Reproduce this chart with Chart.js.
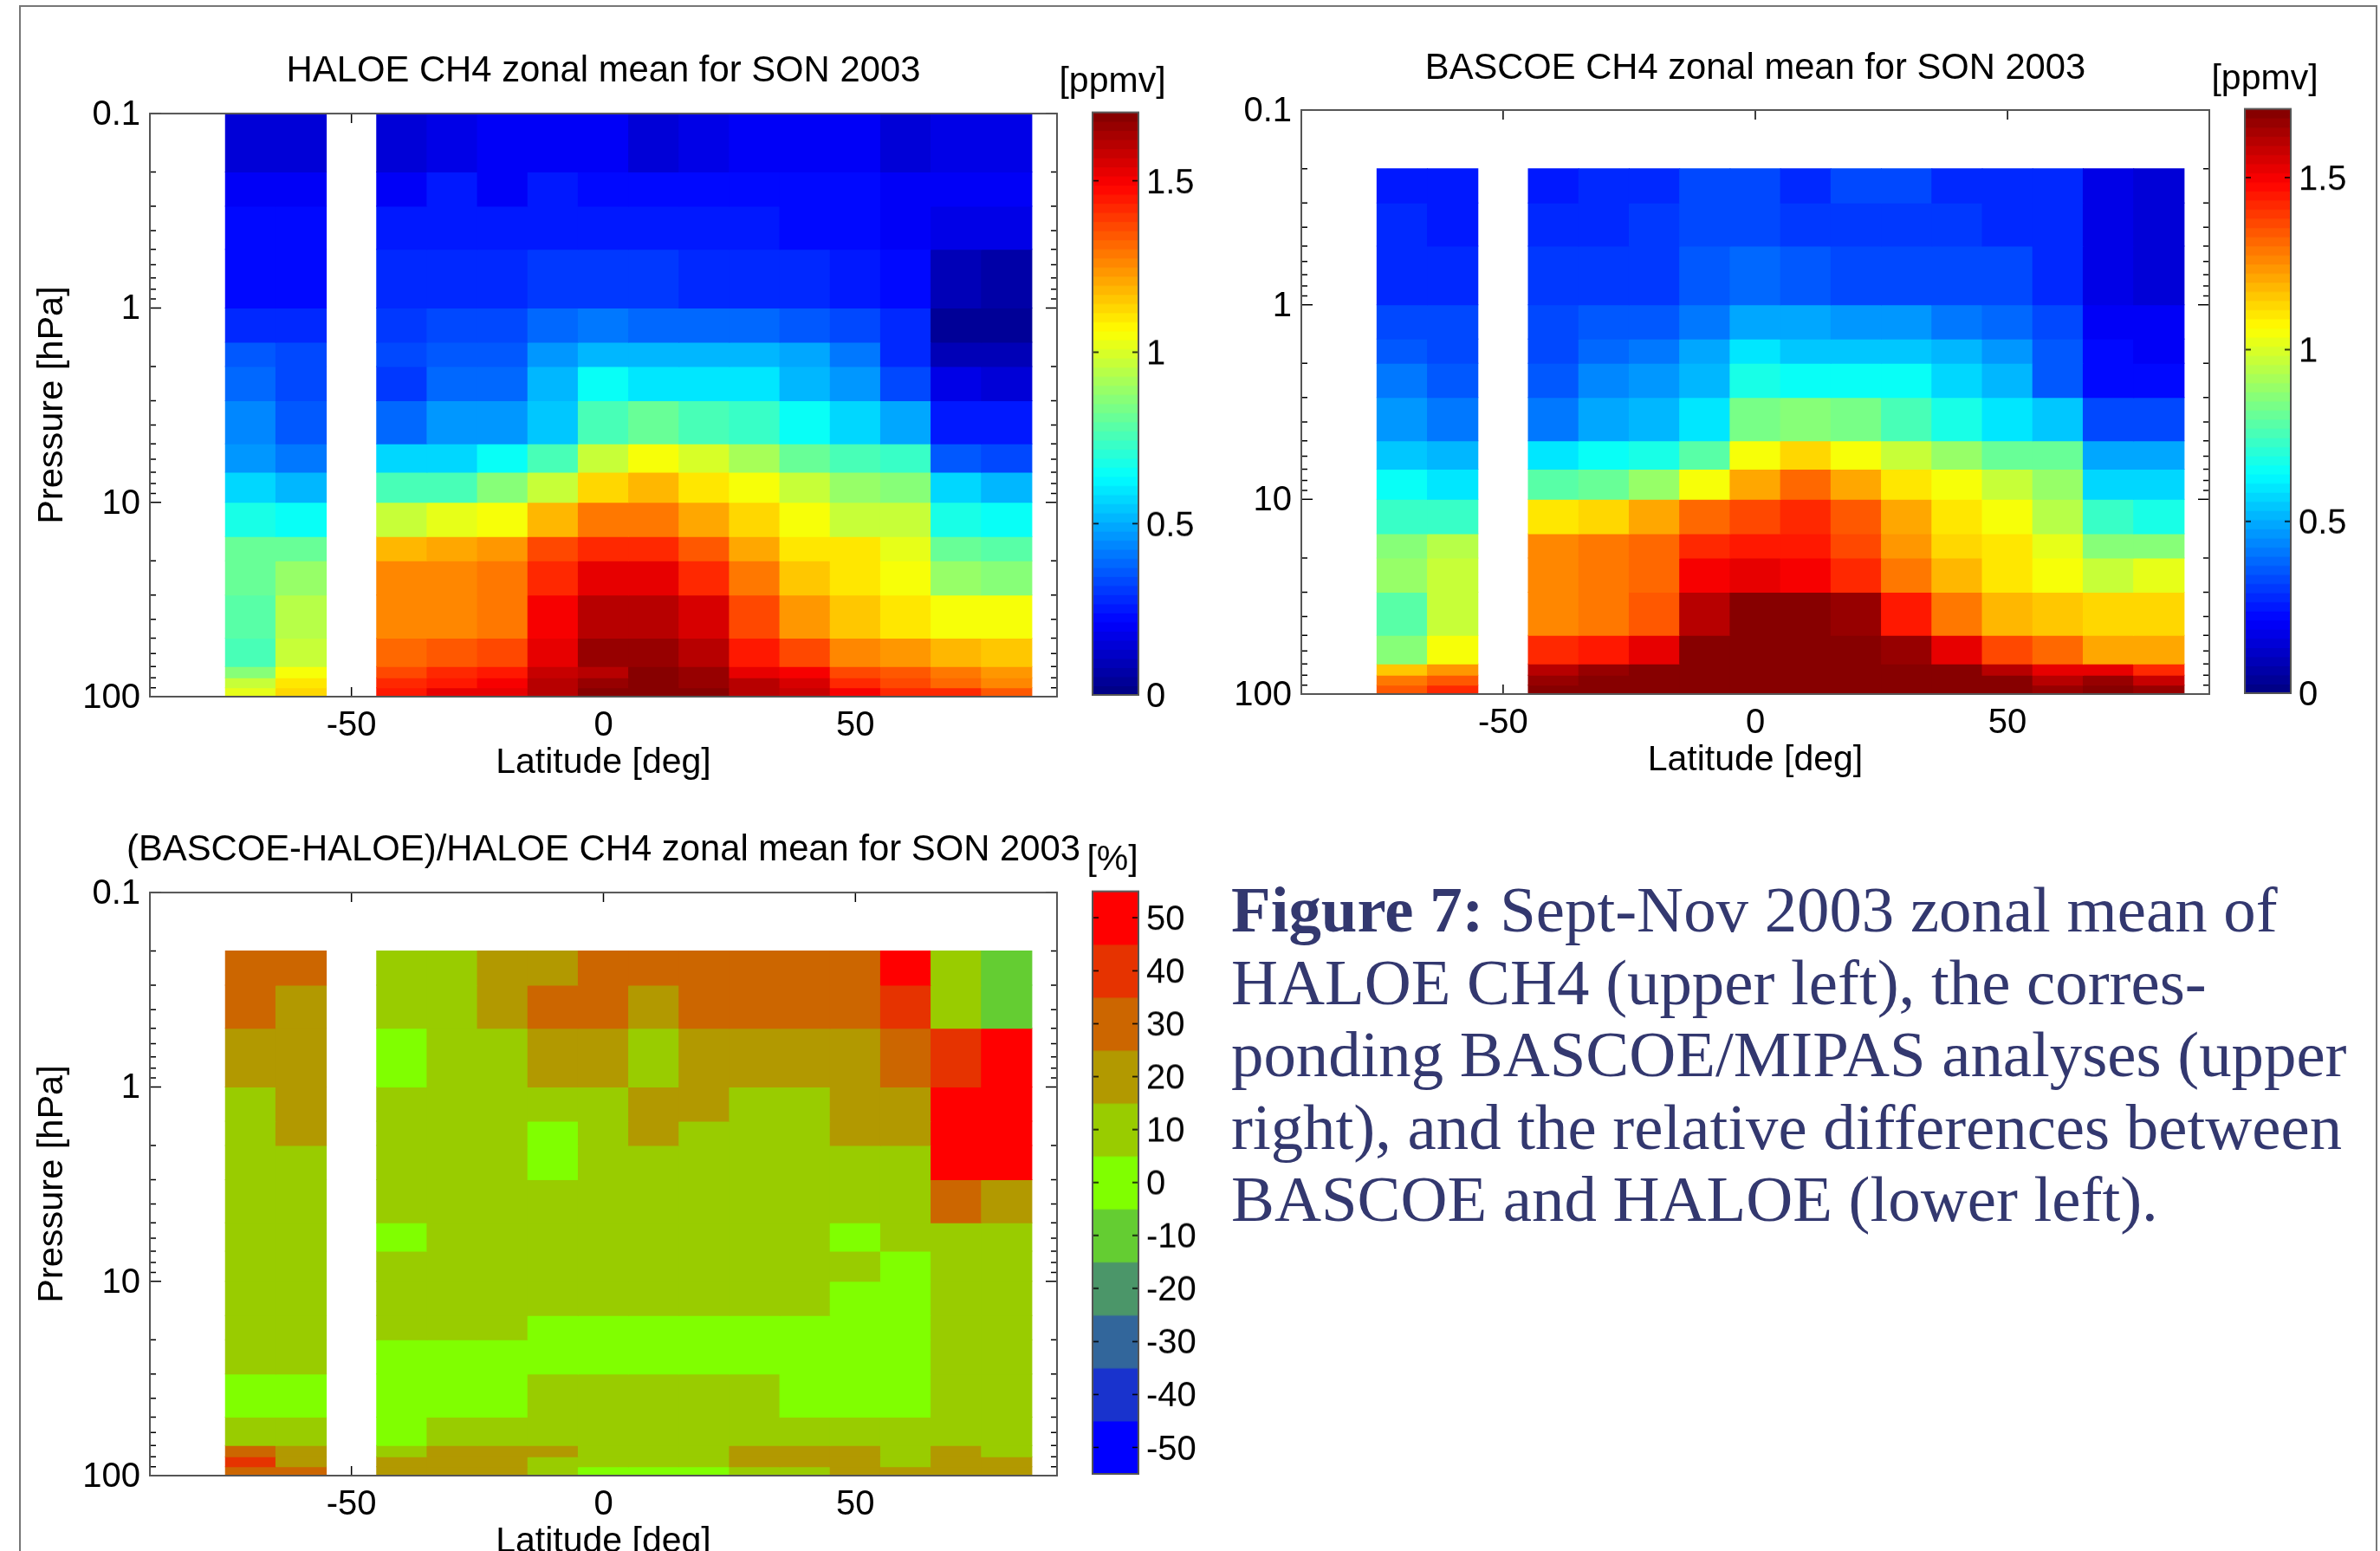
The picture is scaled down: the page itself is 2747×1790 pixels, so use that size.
<!DOCTYPE html>
<html>
<head>
<meta charset="utf-8">
<title>Figure 7</title>
<script src="https://cdn.jsdelivr.net/npm/chart.js@4"></script>
<style>
    html, body { margin: 0; background: #fff; width: 2747px; height: 1790px; overflow: hidden; }
    canvas { position: absolute; }
    #frame { position: absolute; left: 22px; top: 6px; width: 2722px; height: 2000px; box-sizing: border-box;
             border: 2px solid #777; }
    #caption { position: absolute; left: 1421px; top: 1008px; font: 74.8px/83.6px "Liberation Serif", serif;
               color: #33386f; white-space: nowrap; }
</style>
</head>
<body>
<div id="frame"></div>
<div id="caption"><b>Figure 7:</b> Sept-Nov 2003 zonal mean of<br>HALOE CH4 (upper left), the corres-<br>ponding BASCOE/MIPAS analyses (upper<br>right), and the relative differences between<br>BASCOE and HALOE (lower left).</div>
<script>
// Latitude column centres, -50 has no data in any panel
const latitudes = [-70, -60, -40, -30, -20, -10, 0, 10, 20, 30, 40, 50, 60, 70, 80];
const latTicks = [-50, 0, 50];

// Pressure bin edges in hPa, top of the atmosphere first
const pressureEdges = [0.1, 0.2, 0.3, 0.5, 1, 1.5, 2, 3, 5, 7, 10, 15, 20, 30, 50, 70, 80, 90, 100];
const pressureLabels = [0.1, 1, 10, 100];
const pressureTicks = [0.1, 0.2, 0.3, 0.4, 0.5, 0.6, 0.7, 0.8, 0.9, 1, 2, 3, 4, 5, 6, 7, 8, 9, 10,
                       20, 30, 40, 50, 60, 70, 80, 90, 100];

// HALOE CH4 [ppmv], one row per pressure bin
const haloe = [
    [.144, .144, .144, .18, .20, .20, .20, .14, .18, .20, .20, .20, .15, .185, .185],
    [.21, .21, .21, .24, .21, .25, .23, .23, .23, .23, .23, .23, .19, .20, .20],
    [.22, .22, .25, .25, .25, .25, .25, .25, .25, .25, .23, .23, .21, .18, .16],
    [.23, .23, .28, .28, .28, .31, .31, .31, .29, .29, .29, .25, .23, .10, .07],
    [.28, .28, .295, .34, .34, .395, .42, .395, .395, .395, .37, .345, .28, .05, .04],
    [.37, .34, .32, .37, .37, .455, .53, .505, .505, .505, .48, .41, .29, .10, .09],
    [.395, .345, .31, .395, .395, .505, .64, .61, .61, .61, .53, .455, .345, .18, .15],
    [.43, .37, .395, .455, .455, .555, .77, .80, .77, .72, .66, .58, .48, .26, .26],
    [.46, .40, .58, .58, .64, .76, .98, 1.06, 1.00, .92, .82, .75, .74, .36, .33],
    [.56, .53, .77, .77, .85, .96, 1.14, 1.19, 1.11, 1.04, .96, .90, .86, .56, .52],
    [.69, .66, .98, 1.01, 1.06, 1.19, 1.29, 1.29, 1.21, 1.14, 1.04, .98, .96, .69, .66],
    [.80, .81, 1.19, 1.21, 1.24, 1.38, 1.43, 1.43, 1.33, 1.21, 1.11, 1.09, 1.01, .81, .79],
    [.81, .90, 1.26, 1.26, 1.29, 1.43, 1.52, 1.52, 1.41, 1.29, 1.16, 1.11, 1.04, .90, .87],
    [.79, .93, 1.26, 1.26, 1.29, 1.49, 1.60, 1.62, 1.55, 1.38, 1.24, 1.16, 1.11, 1.06, 1.04],
    [.77, .96, 1.31, 1.35, 1.38, 1.54, 1.65, 1.67, 1.60, 1.46, 1.38, 1.26, 1.24, 1.19, 1.16],
    [.87, 1.04, 1.38, 1.43, 1.46, 1.57, 1.62, 1.70, 1.65, 1.54, 1.49, 1.38, 1.35, 1.29, 1.24],
    [.96, 1.09, 1.41, 1.46, 1.49, 1.60, 1.67, 1.70, 1.67, 1.60, 1.55, 1.43, 1.38, 1.31, 1.26],
    [1.01, 1.14, 1.46, 1.52, 1.54, 1.62, 1.70, 1.70, 1.70, 1.62, 1.57, 1.49, 1.41, 1.41, 1.35]
];

// BASCOE CH4 [ppmv], starts one bin lower than HALOE
const bascoe = [
    [.26, .26, .25, .29, .29, .32, .32, .28, .32, .32, .29, .29, .29, .185, .14],
    [.28, .25, .28, .28, .31, .34, .34, .31, .31, .31, .31, .29, .29, .185, .14],
    [.29, .29, .295, .295, .295, .37, .395, .37, .345, .345, .345, .32, .29, .185, .14],
    [.345, .32, .34, .36, .36, .42, .48, .48, .455, .455, .42, .395, .34, .21, .19],
    [.37, .345, .32, .395, .42, .48, .61, .555, .555, .555, .53, .455, .37, .235, .21],
    [.405, .37, .355, .43, .455, .505, .69, .66, .66, .64, .58, .505, .37, .235, .235],
    [.455, .42, .42, .48, .505, .61, .83, .85, .83, .77, .69, .61, .555, .32, .32],
    [.555, .51, .59, .64, .69, .79, 1.04, 1.14, 1.06, .96, .90, .81, .81, .48, .48],
    [.64, .61, .79, .81, .90, 1.04, 1.21, 1.31, 1.21, 1.11, 1.06, .96, .90, .58, .58],
    [.74, .74, 1.09, 1.14, 1.21, 1.31, 1.38, 1.41, 1.35, 1.21, 1.11, 1.04, .93, .72, .69],
    [.87, .93, 1.26, 1.29, 1.31, 1.43, 1.46, 1.46, 1.38, 1.24, 1.14, 1.09, 1.01, .87, .87],
    [.90, .96, 1.26, 1.29, 1.31, 1.49, 1.52, 1.49, 1.43, 1.29, 1.19, 1.11, 1.06, .96, 1.01],
    [.79, .96, 1.26, 1.29, 1.35, 1.60, 1.70, 1.70, 1.67, 1.46, 1.29, 1.19, 1.16, 1.14, 1.14],
    [.87, 1.04, 1.41, 1.46, 1.54, 1.70, 1.70, 1.70, 1.70, 1.65, 1.54, 1.38, 1.31, 1.21, 1.21],
    [1.16, 1.24, 1.60, 1.67, 1.70, 1.70, 1.70, 1.70, 1.70, 1.70, 1.70, 1.62, 1.52, 1.52, 1.41],
    [1.29, 1.35, 1.67, 1.70, 1.70, 1.70, 1.70, 1.70, 1.70, 1.70, 1.70, 1.70, 1.60, 1.67, 1.57],
    [1.35, 1.43, 1.70, 1.70, 1.70, 1.70, 1.70, 1.70, 1.70, 1.70, 1.70, 1.70, 1.65, 1.70, 1.67]
];

// (BASCOE-HALOE)/HALOE [%], rounded to the colour bins
const difference = [
    [30, 30, 10, 10, 20, 20, 30, 30, 30, 30, 30, 30, 50, 10, -10],
    [30, 20, 10, 10, 20, 30, 30, 20, 30, 30, 30, 30, 40, 10, -10],
    [20, 20, 0, 10, 10, 20, 20, 10, 20, 20, 20, 20, 30, 40, 50],
    [10, 20, 10, 10, 10, 10, 10, 20, 20, 10, 10, 20, 20, 50, 50],
    [10, 20, 10, 10, 10, 0, 10, 20, 10, 10, 10, 20, 20, 50, 50],
    [10, 10, 10, 10, 10, 0, 10, 10, 10, 10, 10, 10, 10, 50, 50],
    [10, 10, 10, 10, 10, 10, 10, 10, 10, 10, 10, 10, 10, 30, 20],
    [10, 10, 0, 10, 10, 10, 10, 10, 10, 10, 10, 0, 10, 10, 10],
    [10, 10, 10, 10, 10, 10, 10, 10, 10, 10, 10, 10, 0, 10, 10],
    [10, 10, 10, 10, 10, 10, 10, 10, 10, 10, 10, 0, 0, 10, 10],
    [10, 10, 10, 10, 10, 0, 0, 0, 0, 0, 0, 0, 0, 10, 10],
    [10, 10, 0, 0, 0, 0, 0, 0, 0, 0, 0, 0, 0, 10, 10],
    [0, 0, 0, 0, 0, 10, 10, 10, 10, 10, 0, 0, 0, 10, 10],
    [10, 10, 0, 10, 10, 10, 10, 10, 10, 10, 10, 10, 10, 10, 10],
    [30, 20, 10, 20, 20, 20, 10, 10, 10, 20, 20, 20, 10, 20, 10],
    [40, 20, 20, 20, 20, 10, 10, 10, 10, 20, 20, 20, 10, 20, 20],
    [30, 30, 20, 20, 20, 10, 0, 0, 0, 10, 10, 20, 20, 20, 20]
];

// Colour bars
const ppmvMax = 1.7;
const ppmvTicks = [0, 0.5, 1, 1.5];
const diffLevels = [-50, -40, -30, -20, -10, 0, 10, 20, 30, 40, 50];
const diffColors = ['#0000ff', '#1933cd', '#32669b', '#4b9669', '#64cd32', '#80ff00',
                    '#99cc00', '#b29900', '#cc6600', '#e63300', '#ff0000'];

const axisGrey = '#555';
Chart.defaults.font.family = '"Liberation Sans", Arial, sans-serif';
Chart.defaults.color = '#000';
Chart.defaults.animation = false;

// 64 step rainbow like the IDL colour table
function jet(v) {
    const n = Math.min(63, Math.floor(v / ppmvMax * 64));
    const t = (n + 0.5) / 64;
    const ramp = c => Math.round(255 * Math.max(0, Math.min(1, 1.5 - Math.abs(4 * t - c))));
    return `rgb(${ramp(3)},${ramp(2)},${ramp(1)})`;
}

function diffColor(v) {
    return diffColors[diffLevels.indexOf(v)];
}

// IDL style inward ticks and a box round the plot
const frameTicks = {
    id: 'frameTicks',
    drawTicks(chart, o) {
        const { ctx, chartArea: a, scales } = chart;
        ctx.save();
        ctx.strokeStyle = '#000';
        ctx.lineWidth = 1.5;
        ctx.beginPath();
        (o.xTicks || []).forEach(v => {
            const x = scales.x.getPixelForValue(v);
            ctx.moveTo(x, a.top); ctx.lineTo(x, a.top + 11);
            ctx.moveTo(x, a.bottom); ctx.lineTo(x, a.bottom - 11);
        });
        (o.yTicks || []).forEach(v => {
            const y = scales.y.getPixelForValue(v);
            const len = (o.yMajor || o.yTicks).includes(v) ? o.majorLen : o.minorLen;
            ctx.moveTo(a.left, y); ctx.lineTo(a.left + len, y);
            ctx.moveTo(a.right, y); ctx.lineTo(a.right - len, y);
        });
        ctx.stroke();
        ctx.restore();
    },
    beforeDatasetsDraw(chart, args, o) {
        if (!o.ticksOnTop) this.drawTicks(chart, o);
    },
    afterDatasetsDraw(chart, args, o) {
        if (o.ticksOnTop) this.drawTicks(chart, o);
        const { ctx, chartArea: a } = chart;
        ctx.save();
        ctx.strokeStyle = axisGrey;
        ctx.lineWidth = 2;
        ctx.strokeRect(a.left, a.top, a.right - a.left, a.bottom - a.top);
        ctx.restore();
    }
};

function addCanvas(left, top, width, height) {
    const c = document.createElement('canvas');
    c.width = width;
    c.height = height;
    c.style.left = left + 'px';
    c.style.top = top + 'px';
    c.style.width = width + 'px';
    c.style.height = height + 'px';
    document.body.appendChild(c);
    return c.getContext('2d');
}

// empty axis that keeps room on the far side, so the title stays centred over the plot
function spacerAxis(position, width) {
    return {
        type: 'linear',
        axis: 'y',
        position: position,
        grid: { display: false, drawTicks: false },
        border: { display: false },
        ticks: { display: false },
        afterFit: s => { s.width = width; }
    };
}

function heatPanel(p) {
    const titleLine = p.titleSize * 1.2;
    const canvasTop = p.titleY - titleLine / 2;
    const axisH = 101;
    const L = p.leftRoom;
    const ctx = addCanvas(p.left - L, canvasTop, p.right - p.left + 2 * L, p.bottom - canvasTop + axisH);
    const edges = p.edges;

    new Chart(ctx, {
        type: 'bar',
        data: {
            datasets: p.rows.map((row, r) => ({
                xAxisID: 'x',
                yAxisID: 'y',
                data: latitudes.map((lat, i) => ({ x: lat, y: [edges[r], edges[r + 1]] })),
                backgroundColor: row.map(p.color),
                barPercentage: 1,
                categoryPercentage: 1,
                grouped: false,
                inflateAmount: 0.5,
                borderWidth: 0
            }))
        },
        options: {
            responsive: false,
            events: [],
            scales: {
                x: {
                    type: 'linear',
                    min: -90,
                    max: 90,
                    offset: false,
                    grid: { display: false, drawTicks: false },
                    border: { display: false },
                    afterBuildTicks: s => { s.ticks = latTicks.map(v => ({ value: v })); },
                    afterFit: s => { s.height = axisH; },
                    ticks: { font: { size: 40 }, padding: 10, maxRotation: 0, autoSkip: false, callback: v => String(v) },
                    title: { display: true, text: 'Latitude [deg]', font: { size: 41 }, padding: 0 }
                },
                y: {
                    type: 'logarithmic',
                    reverse: true,
                    min: 0.1,
                    max: 100,
                    grid: { display: false, drawTicks: false },
                    border: { display: false },
                    afterBuildTicks: s => { s.ticks = pressureLabels.map(v => ({ value: v })); },
                    afterFit: s => { s.width = L; },
                    ticks: { font: { size: 40 }, padding: 11, labelOffset: 2, autoSkip: false, callback: v => String(v) },
                    title: {
                        display: p.yTitle,
                        text: 'Pressure [hPa]',
                        font: { size: 41.5 },
                        padding: { top: 36, bottom: 0 }
                    }
                },
                room: spacerAxis('right', L)
            },
            plugins: {
                legend: { display: false },
                tooltip: { enabled: false },
                title: {
                    display: true,
                    text: p.title,
                    font: { size: p.titleSize, weight: 'normal', lineHeight: 1.2 },
                    padding: { top: 0, bottom: p.top - canvasTop - titleLine }
                },
                frameTicks: { xTicks: latTicks, yTicks: pressureTicks, yMajor: pressureLabels, majorLen: 13, minorLen: 7 }
            }
        },
        plugins: [frameTicks]
    });
}

function colorBar(b) {
    const titleLine = 41 * 1.2;
    const canvasTop = b.titleY - titleLine / 2;
    const room = 95;
    const leftRoom = 102; // unit label sits a little left of the bar centre
    const below = 30;
    const ctx = addCanvas(b.left - leftRoom, canvasTop, b.right - b.left + leftRoom + room, b.bottom - canvasTop + below);

    new Chart(ctx, {
        type: 'bar',
        data: {
            datasets: [{
                xAxisID: 'x',
                yAxisID: 'y',
                data: b.levels.map(v => ({ y: v, x: [0, 1] })),
                backgroundColor: b.levels.map(b.color),
                barPercentage: 1,
                categoryPercentage: 1,
                inflateAmount: 0.5,
                borderWidth: 0
            }]
        },
        options: {
            indexAxis: 'y',
            responsive: false,
            events: [],
            layout: { padding: { bottom: below } },
            scales: {
                x: { type: 'linear', min: 0, max: 1, display: false, offset: false },
                y: {
                    type: 'linear',
                    position: 'right',
                    min: b.min,
                    max: b.max,
                    offset: false,
                    grid: { display: false, drawTicks: false },
                    border: { display: false },
                    afterBuildTicks: s => { s.ticks = b.ticks.map(v => ({ value: v })); },
                    afterFit: s => { s.width = room; },
                    ticks: { font: { size: 40 }, padding: 9, labelOffset: 3, autoSkip: false, callback: v => String(v) }
                },
                room: spacerAxis('left', leftRoom)
            },
            plugins: {
                legend: { display: false },
                tooltip: { enabled: false },
                title: {
                    display: true,
                    text: b.title,
                    font: { size: 41, weight: 'normal', lineHeight: 1.2 },
                    padding: { top: 0, bottom: b.top - canvasTop - titleLine }
                },
                frameTicks: { yTicks: b.ticks, ticksOnTop: true, majorLen: 7, minorLen: 7 }
            }
        },
        plugins: [frameTicks]
    });
}

// the 64 steps of the ppmv colour bar
const ppmvLevels = Array.from({ length: 64 }, (_, i) => (i + 0.5) * ppmvMax / 64);

heatPanel({
    title: 'HALOE CH4 zonal mean for SON 2003', titleSize: 41.8, titleY: 82, yTitle: true,
    left: 173, right: 1220, top: 131, bottom: 804, leftRoom: 173,
    rows: haloe, edges: pressureEdges, color: jet
});
heatPanel({
    title: 'BASCOE CH4 zonal mean for SON 2003', titleSize: 41.7, titleY: 79, yTitle: false,
    left: 1502, right: 2550, top: 127, bottom: 801, leftRoom: 150,
    rows: bascoe, edges: pressureEdges.slice(1), color: jet
});
heatPanel({
    title: '(BASCOE-HALOE)/HALOE CH4 zonal mean for SON 2003', titleSize: 41.8, titleY: 981, yTitle: true,
    left: 173, right: 1220, top: 1030, bottom: 1703, leftRoom: 173,
    rows: difference, edges: pressureEdges.slice(1), color: diffColor
});

colorBar({
    title: '[ppmv]', titleY: 95, left: 1261, right: 1314, top: 130, bottom: 805,
    levels: ppmvLevels, color: jet, min: 0, max: ppmvMax, ticks: ppmvTicks
});
colorBar({
    title: '[ppmv]', titleY: 92, left: 2591, right: 2644, top: 126, bottom: 803,
    levels: ppmvLevels, color: jet, min: 0, max: ppmvMax, ticks: ppmvTicks
});
colorBar({
    title: '[%]', titleY: 993, left: 1261, right: 1314, top: 1029, bottom: 1704,
    levels: diffLevels, color: diffColor, min: -55, max: 55, ticks: diffLevels
});
</script>
</body>
</html>
